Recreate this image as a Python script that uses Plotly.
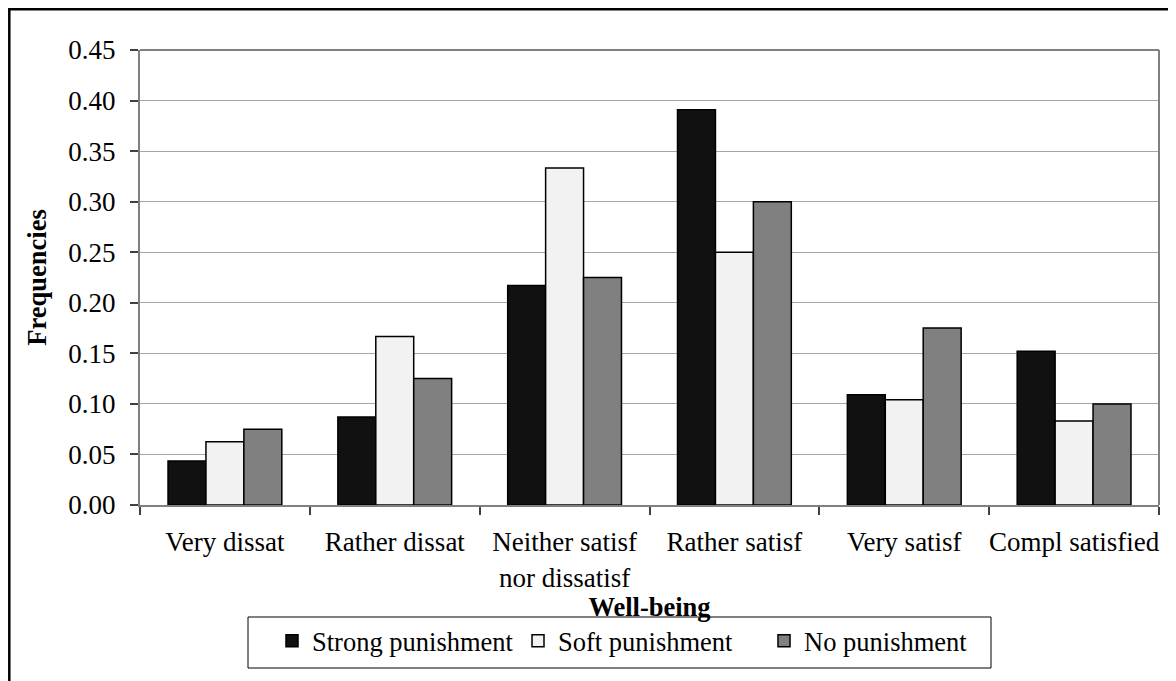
import plotly.graph_objects as go

categories = ["Very dissat", "Rather dissat", "Neither satisf<br>nor dissatisf",
              "Rather satisf", "Very satisf", "Compl satisfied"]
strong = [0.0435, 0.087, 0.217, 0.391, 0.109, 0.152]
soft = [0.0625, 0.1667, 0.3333, 0.25, 0.104, 0.083]
none_ = [0.075, 0.125, 0.225, 0.30, 0.175, 0.10]
series_names = ["Strong punishment", "Soft punishment", "No punishment"]
series_colors = ["#111111", "#f2f2f2", "#808080"]
y_ticks = [0.00, 0.05, 0.10, 0.15, 0.20, 0.25, 0.30, 0.35, 0.40, 0.45]

FONT = "Liberation Serif, Times New Roman, serif"

# plot area in figure pixels
L, R, T, B = 132, 25, 42, 184
W, H = 1176, 681
PW, PH = W - L - R, H - T - B


def px_x(x):
    return (x - L) / PW


def px_y(y):
    return (H - B - y) / PH


fig = go.Figure()
for name, vals, col in zip(series_names, [strong, soft, none_], series_colors):
    fig.add_trace(go.Bar(
        x=categories, y=vals, name=name,
        marker=dict(color=col, line=dict(color="#000000", width=1.5)),
    ))

fig.update_layout(
    width=W, height=H,
    margin=dict(l=L, r=R, t=T, b=B, autoexpand=False),
    paper_bgcolor="white", plot_bgcolor="white",
    barmode="group", bargap=0.33, bargroupgap=0,
    font=dict(family=FONT, size=26.5, color="black"),
    showlegend=True,
    legend=dict(
        orientation="h", x=px_x(264), y=px_y(609), xanchor="left", yanchor="top",
        borderwidth=0, bgcolor="rgba(0,0,0,0)",
        font=dict(family=FONT, size=26.5, color="black"),
        itemwidth=30, traceorder="normal",
        entrywidth=201, entrywidthmode="pixels",
    ),
    xaxis=dict(
        showline=True, linecolor="#808080", linewidth=2, mirror=False,
        ticks="outside", tickson="boundaries", ticklen=8, tickcolor="#404040", tickwidth=1.5,
        showgrid=False, tickangle=0, automargin=False,
        ticklabelstandoff=12,
        tickfont=dict(family=FONT, size=27, color="black"),
        title=dict(text="<b>Well-being</b>", font=dict(family=FONT, size=26.5, color="black"), standoff=4),
    ),
    yaxis=dict(
        range=[0, 0.45], tickvals=y_ticks, tickformat=".2f",
        showline=True, linecolor="#808080", linewidth=2, automargin=False,
        ticks="outside", ticklen=8, tickcolor="#404040", tickwidth=1.5,
        ticklabelstandoff=9,
        showgrid=True, gridcolor="#a6a6a6", gridwidth=1,
        zeroline=False,
        tickfont=dict(family=FONT, size=27, color="black"),
        title=dict(text="<b>Frequencies</b>", font=dict(family=FONT, size=26.5, color="black"), standoff=14),
    ),
    shapes=[
        # plot frame top and right
        dict(type="line", xref="paper", yref="paper", x0=0, x1=1, y0=1, y1=1,
             line=dict(color="#808080", width=2)),
        dict(type="line", xref="paper", yref="paper", x0=1, x1=1, y0=0, y1=1,
             line=dict(color="#808080", width=2)),
        # legend box
        dict(type="rect", xref="paper", yref="paper",
             x0=px_x(240), x1=px_x(983), y0=px_y(660), y1=px_y(609),
             line=dict(color="black", width=1), fillcolor="rgba(0,0,0,0)", layer="below"),
        # outer chart border
        dict(type="rect", xref="paper", yref="paper",
             x0=px_x(1.3), x1=px_x(1190), y0=px_y(700), y1=px_y(1.3),
             line=dict(color="black", width=2.5), fillcolor="rgba(0,0,0,0)", layer="above"),
    ],
)

fig.write_html("out.html")
